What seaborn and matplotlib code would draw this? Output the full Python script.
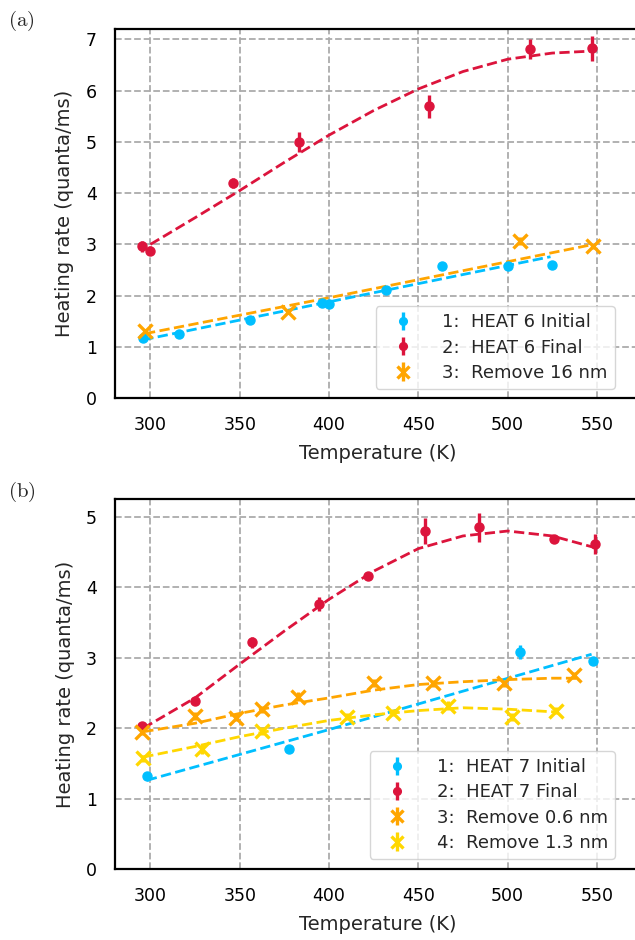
import numpy as np
import pandas as pd
import matplotlib
matplotlib.use("Agg")
import matplotlib.pyplot as plt
import seaborn as sns

# ---------------- Panel (a) data ----------------
a_init_T = [296, 316, 356, 396, 400, 432, 463, 500, 525]
a_init_y = [1.17, 1.25, 1.53, 1.86, 1.83, 2.11, 2.58, 2.57, 2.59]
a_init_e = [0.04, 0.04, 0.04, 0.04, 0.04, 0.04, 0.05, 0.06, 0.04]

a_final_T = [295.5, 300, 346, 383, 456, 512.5, 547.5]
a_final_y = [2.96, 2.88, 4.19, 5.00, 5.69, 6.81, 6.82]
a_final_e = [0.10, 0.09, 0.10, 0.20, 0.23, 0.20, 0.24]

a_rm16_T = [297, 377, 507, 548]
a_rm16_y = [1.31, 1.69, 3.07, 2.96]
a_rm16_e = [0.05, 0.05, 0.08, 0.05]

# fitted curves
a_fit_init_T = [296, 400, 524]
a_fit_init_y = [1.14, 1.88, 2.76]
a_fit_final_T = [300, 325, 350, 375, 400, 425, 450, 475, 500, 525, 548]
a_fit_final_y = [3.00, 3.52, 4.05, 4.60, 5.13, 5.61, 6.03, 6.37, 6.61, 6.73, 6.77]
a_fit_rm16_T = [297, 400, 548]
a_fit_rm16_y = [1.26, 1.96, 3.00]

# ---------------- Panel (b) data ----------------
b_init_T = [298, 377.5, 507, 548]
b_init_y = [1.32, 1.70, 3.08, 2.96]
b_init_e = [0.04, 0.04, 0.10, 0.05]

b_final_T = [295.5, 325, 357, 394.5, 422, 454, 484, 526, 549]
b_final_y = [2.03, 2.39, 3.22, 3.77, 4.16, 4.80, 4.85, 4.68, 4.62]
b_final_e = [0.04, 0.04, 0.08, 0.10, 0.05, 0.19, 0.20, 0.05, 0.14]

b_rm06_T = [295.5, 325, 348, 362.5, 382.5, 425, 458, 498, 537]
b_rm06_y = [1.95, 2.17, 2.15, 2.27, 2.45, 2.64, 2.64, 2.64, 2.75]
b_rm06_e = [0.05, 0.06, 0.05, 0.05, 0.06, 0.06, 0.05, 0.05, 0.05]

b_rm13_T = [296, 329, 362.5, 410, 436, 466.5, 502.5, 527]
b_rm13_y = [1.57, 1.70, 1.96, 2.16, 2.22, 2.32, 2.16, 2.25]
b_rm13_e = [0.05, 0.06, 0.06, 0.05, 0.05, 0.06, 0.06, 0.05]

b_fit_init_T = [298, 400, 547]
b_fit_init_y = [1.26, 1.98, 3.05]
b_fit_final_T = [296, 325, 350, 375, 400, 425, 450, 475, 500, 525, 548]
b_fit_final_y = [2.00, 2.43, 2.91, 3.38, 3.83, 4.23, 4.55, 4.73, 4.80, 4.73, 4.57]
b_fit_rm06_T = [296, 325, 350, 375, 400, 425, 450, 475, 500, 525, 540]
b_fit_rm06_y = [1.95, 2.07, 2.21, 2.33, 2.43, 2.54, 2.62, 2.66, 2.69, 2.71, 2.71]
b_fit_rm13_T = [296, 325, 350, 375, 400, 425, 450, 475, 500, 527]
b_fit_rm13_y = [1.59, 1.74, 1.88, 2.00, 2.11, 2.19, 2.25, 2.29, 2.27, 2.23]

xticks = [300, 350, 400, 450, 500, 550]

BLUE = "#00bfff"
RED = "#dc143c"
ORANGE = "#ffa500"
GOLD = "#ffd700"

sns.set_style("white")
plt.rcParams["font.family"] = ["DejaVu Sans"]
plt.rcParams["mathtext.fontset"] = "cm"

fig = plt.figure(figsize=(6.35, 9.4), dpi=100)
L, W = 0.1806, 0.8298
axA = fig.add_axes([L, 0.5763, W, 0.3929])
axB = fig.add_axes([L, 0.0755, W, 0.3933])


def draw_fit(ax, T, y, color):
    df = pd.DataFrame({"T": T, "y": y})
    sns.lineplot(data=df, x="T", y="y", ax=ax, color=color, lw=2.0,
                 linestyle="--", zorder=3, legend=False)


def draw_pts(ax, T, y, e, color, kind, label):
    if kind == "o":
        ax.errorbar(T, y, yerr=e, fmt="o", color=color, ms=6.5, elinewidth=2.4,
                    capsize=0, zorder=4, label=label)
    else:
        ax.errorbar(T, y, yerr=e, fmt="x", color=color, ms=10.5, mew=2.4,
                    elinewidth=2.4, capsize=0, zorder=4, label=label)


def style(ax, ylim, yticks):
    ax.set_xlim(280, 575)
    ax.set_ylim(*ylim)
    ax.set_xticks(xticks)
    ax.set_yticks(yticks)
    ax.grid(True, color="#ababab", linestyle="--", lw=1.3)
    ax.set_axisbelow(True)
    for s in ["left", "top", "bottom"]:
        ax.spines[s].set_color("black")
        ax.spines[s].set_linewidth(1.6)
    ax.spines["right"].set_visible(False)
    ax.tick_params(axis="both", direction="out", length=7, width=1.6,
                   labelsize=12.5, pad=6, colors="black")
    ax.set_xlabel("Temperature (K)", fontsize=14, labelpad=7)
    ax.set_ylabel("Heating rate (quanta/ms)", fontsize=14, labelpad=8)


LEG = dict(loc="lower right", borderaxespad=0, fontsize=13, handlelength=2.2,
           handletextpad=1.1, labelspacing=0.4, markerscale=0.85,
           frameon=True, edgecolor="#cccccc", framealpha=0.8)

# Panel (a)
draw_fit(axA, a_fit_init_T, a_fit_init_y, BLUE)
draw_fit(axA, a_fit_final_T, a_fit_final_y, RED)
draw_fit(axA, a_fit_rm16_T, a_fit_rm16_y, ORANGE)
draw_pts(axA, a_init_T, a_init_y, a_init_e, BLUE, "o", "1:  HEAT 6 Initial")
draw_pts(axA, a_final_T, a_final_y, a_final_e, RED, "o", "2:  HEAT 6 Final")
draw_pts(axA, a_rm16_T, a_rm16_y, a_rm16_e, ORANGE, "x", "3:  Remove 16 nm")
style(axA, (0, 7.2), [0, 1, 2, 3, 4, 5, 6, 7])
axA.legend(bbox_to_anchor=(0.9496, 0.025), **LEG)

# Panel (b)
draw_fit(axB, b_fit_init_T, b_fit_init_y, BLUE)
draw_fit(axB, b_fit_final_T, b_fit_final_y, RED)
draw_fit(axB, b_fit_rm06_T, b_fit_rm06_y, ORANGE)
draw_fit(axB, b_fit_rm13_T, b_fit_rm13_y, GOLD)
draw_pts(axB, b_init_T, b_init_y, b_init_e, BLUE, "o", "1:  HEAT 7 Initial")
draw_pts(axB, b_final_T, b_final_y, b_final_e, RED, "o", "2:  HEAT 7 Final")
draw_pts(axB, b_rm06_T, b_rm06_y, b_rm06_e, ORANGE, "x", "3:  Remove 0.6 nm")
draw_pts(axB, b_rm13_T, b_rm13_y, b_rm13_e, GOLD, "x", "4:  Remove 1.3 nm")
style(axB, (0, 5.25), [0, 1, 2, 3, 4, 5])
axB.legend(bbox_to_anchor=(0.9496, 0.027), **LEG)

fig.text(0.012, 0.978, r"$\mathrm{(a)}$", fontsize=15, ha="left", va="center")
fig.text(0.012, 0.477, r"$\mathrm{(b)}$", fontsize=15, ha="left", va="center")

fig.savefig("out.png", dpi=100)
